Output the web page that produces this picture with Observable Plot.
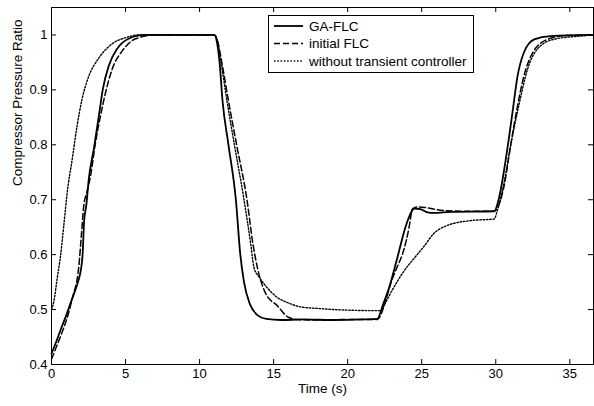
<!DOCTYPE html>
<html>
<head>
<meta charset="utf-8">
<script src="https://cdn.jsdelivr.net/npm/d3@7"></script>
<script src="https://cdn.jsdelivr.net/npm/@observablehq/plot@0.6"></script>
<style>
  body { margin: 0; background: #fff; }
  #chart { position: relative; width: 594px; height: 406px; font-family: "Liberation Sans", Arial, sans-serif; }
  #legend { position: absolute; left: 0; top: 0; pointer-events: none; }
</style>
</head>
<body>
<div id="chart"></div>
<script>
// Time axis (s) and compressor pressure ratio for each controller
const gaT = [0, 0.3, 0.6, 1.0, 1.3, 1.6, 1.85, 2.0, 2.1, 2.2, 2.35, 2.52, 2.86, 3.2, 3.47, 3.87, 4.44, 5.2, 6.3,
  11.0, 11.15, 11.35, 11.55, 11.95, 12.45, 12.75, 13.0, 13.4, 13.9, 14.5, 15.5, 17, 19, 21, 22.0,
  22.4, 22.8, 23.36, 23.9, 24.2, 24.5, 24.9, 25.4, 25.8, 27, 29.9,
  30.2, 30.68, 31.13, 31.47, 31.9, 32.6, 33.7, 36.6];
const gaV = [0.42, 0.44, 0.462, 0.49, 0.513, 0.535, 0.556, 0.575, 0.6, 0.66, 0.69, 0.738, 0.793, 0.853, 0.902, 0.944, 0.975, 0.993, 1.0,
  1.0, 0.99, 0.95, 0.88, 0.8, 0.7, 0.6, 0.55, 0.51, 0.49, 0.483, 0.481, 0.482, 0.481, 0.482, 0.483,
  0.51, 0.54, 0.595, 0.65, 0.672, 0.684, 0.683, 0.677, 0.676, 0.678, 0.679,
  0.701, 0.774, 0.859, 0.925, 0.968, 0.992, 0.998, 1.0];

const initT = [0, 0.3, 0.72, 1.0, 1.4, 1.85, 2.03, 2.18, 2.4, 2.64, 2.97, 3.31, 3.65, 4.1, 4.78, 5.68, 7.0,
  11.0, 11.2, 11.5, 11.95, 12.5, 13.2, 13.6, 13.9, 14.45, 15.25, 16.0, 16.6, 18, 20, 22.0,
  22.5, 22.9, 23.3, 23.7, 23.95, 24.15, 24.37, 24.7, 25.2, 25.8, 26.7, 28, 29.9,
  30.2, 30.56, 31.0, 31.47, 31.9, 32.5, 33.5, 34.8, 36.6];
const initV = [0.41, 0.43, 0.459, 0.48, 0.52, 0.58, 0.64, 0.689, 0.715, 0.744, 0.804, 0.853, 0.895, 0.938, 0.971, 0.993, 1.0,
  1.0, 0.99, 0.95, 0.88, 0.8, 0.7, 0.62, 0.577, 0.53, 0.507, 0.486, 0.482, 0.481, 0.482, 0.482,
  0.51, 0.547, 0.575, 0.601, 0.625, 0.65, 0.683, 0.687, 0.686, 0.683, 0.68, 0.679, 0.679,
  0.69, 0.725, 0.798, 0.871, 0.925, 0.968, 0.992, 0.999, 1.0];

const noneT = [0, 0.16, 0.38, 0.61, 0.83, 1.06, 1.4, 1.73, 2.07, 2.52, 3.2, 4.1, 5.0, 5.9,
  11.0, 11.2, 11.45, 11.85, 12.35, 13.0, 13.45, 13.67, 14.0, 14.35, 15.25, 16.0, 16.8, 18, 19.1, 22.2,
  22.6, 23.0, 23.8, 24.6, 25.15, 25.8, 26.7, 28.3, 29.9,
  30.1, 30.56, 31.0, 31.6, 32.15, 32.8, 33.9, 35.7, 36.6];
const noneV = [0.5, 0.515, 0.556, 0.598, 0.653, 0.713, 0.774, 0.835, 0.884, 0.925, 0.958, 0.984, 0.995, 1.0,
  1.0, 0.99, 0.95, 0.88, 0.8, 0.7, 0.62, 0.577, 0.56, 0.547, 0.522, 0.512, 0.505, 0.502, 0.5, 0.498,
  0.515, 0.535, 0.57, 0.597, 0.615, 0.638, 0.653, 0.662, 0.665,
  0.68, 0.731, 0.798, 0.877, 0.938, 0.974, 0.992, 0.998, 1.0];

const seriesNames = ["GA-FLC", "initial FLC", "without transient controller"];
const xTicks = [0, 5, 10, 15, 20, 25, 30, 35];
const yTicks = [0.4, 0.5, 0.6, 0.7, 0.8, 0.9, 1];

const toRows = (t, v) => t.map((x, i) => ({t: x, v: v[i]}));
const dashes = [null, "6,3", "1.5,1.8"];
const widths = [1.8, 1.5, 1.4];

const W = 594, H = 406, mL = 51, mR = 1, mT = 7, mB = 42;
const innerW = W - mL - mR, innerH = H - mT - mB, tick = 5;
const font = "'Liberation Sans', Arial, sans-serif";

const data = [toRows(gaT, gaV), toRows(initT, initV), toRows(noneT, noneV)];

const chart = Plot.plot({
  width: W, height: H,
  marginLeft: mL, marginRight: mR, marginTop: mT, marginBottom: mB,
  style: {fontFamily: font, fontSize: "13px", background: "#fff", color: "#000"},
  x: {domain: [0, 36.6]},
  y: {domain: [0.4, 1.05]},
  marks: [
    ...data.map((rows, i) => Plot.line(rows, {
      x: "t", y: "v", stroke: "#000", strokeWidth: widths[i],
      strokeDasharray: dashes[i], curve: "monotone-x"
    })),
    Plot.frame({stroke: "#000", strokeWidth: 1}),
    // inward ticks on all four sides
    Plot.tickX(xTicks, {x: d => d, insetTop: innerH - tick, stroke: "#000"}),
    Plot.tickX(xTicks, {x: d => d, insetBottom: innerH - tick, stroke: "#000"}),
    Plot.tickY(yTicks, {y: d => d, insetRight: innerW - tick, stroke: "#000"}),
    Plot.tickY(yTicks, {y: d => d, insetLeft: innerW - tick, stroke: "#000"}),
    Plot.axisX(xTicks, {tickSize: 0, tickPadding: 4, label: null, fontSize: 13, tickFormat: d => String(d)}),
    Plot.axisY(yTicks, {tickSize: 0, tickPadding: 4, label: null, fontSize: 13, tickFormat: d => d === 1 ? "1" : d.toFixed(1)}),
    Plot.text(["Time (s)"], {frameAnchor: "bottom", dy: 28, fontSize: 13.5, fill: "#000"}),
    Plot.text(["Compressor Pressure Ratio"], {frameAnchor: "left", rotate: -90, dx: -34, fontSize: 13.5, fill: "#000"})
  ]
});
document.getElementById("chart").appendChild(chart);

// legend box in the upper middle of the axes
const lg = d3.select("#chart").append("svg")
  .attr("id", "legend").attr("width", W).attr("height", H);
const box = {x: 268, y: 15, w: 205, h: 57};
lg.append("rect").attr("x", box.x + 0.5).attr("y", box.y + 0.5)
  .attr("width", box.w).attr("height", box.h)
  .attr("fill", "#fff").attr("stroke", "#000").attr("stroke-width", 1);
seriesNames.forEach((name, i) => {
  const cy = box.y + 11 + i * 17.5;
  lg.append("line").attr("x1", box.x + 6).attr("x2", box.x + 35)
    .attr("y1", cy).attr("y2", cy)
    .attr("stroke", "#000").attr("stroke-width", widths[i])
    .attr("stroke-dasharray", dashes[i]);
  lg.append("text").attr("x", box.x + 41).attr("y", cy).attr("dy", "0.35em")
    .attr("font-size", 13.5).attr("font-family", font)
    .attr("fill", "#000").text(name);
});
</script>
</body>
</html>
